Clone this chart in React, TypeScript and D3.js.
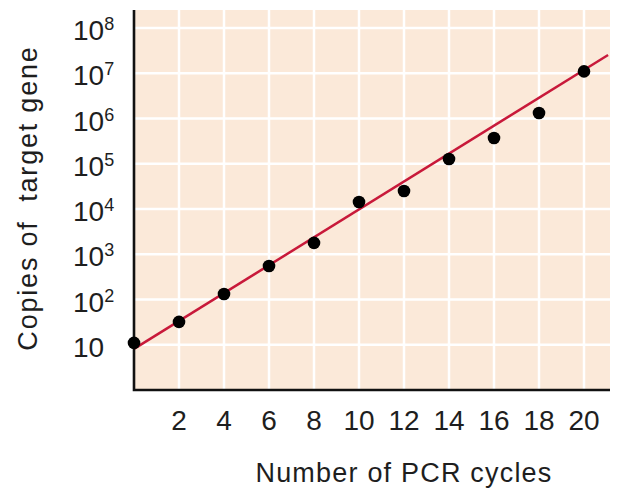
import React from "react";
import * as d3 from "d3";

// PCR amplification: copies of target gene vs. cycle number
const cycles = [0, 2, 4, 6, 8, 10, 12, 14, 16, 18, 20];
const copies = [11, 32, 132, 550, 1780, 14300, 25000, 127000, 370000, 1320000, 11000000];

// fitted line end points (cycle, copies)
const fitCycles = [0, 21.07];
const fitCopies = [8.1, 25300000];

const xTicks = [2, 4, 6, 8, 10, 12, 14, 16, 18, 20];
const yExponents = [1, 2, 3, 4, 5, 6, 7, 8];

const WIDTH = 620,
  HEIGHT = 491;
const left = 134,
  right = 610,
  top = 10,
  bottom = 390;

const FONT = "'Liberation Sans', Arial, Helvetica, sans-serif";
const bgColor = "#fbe9d9";
const lineColor = "#c8193a";
const textColor = "#1e1e1e";

export default function App() {
  const x = d3.scaleLinear().domain([0, 20]).range([left, 584]);
  const y = d3.scaleLog().domain([1, 1e8]).range([bottom, 28]);

  const line = d3
    .line<number>()
    .x((d, i) => x(fitCycles[i]))
    .y((d) => y(d));

  return (
    <svg
      width={WIDTH}
      height={HEIGHT}
      style={{ position: "absolute", left: 0, top: 0, background: "#fff" }}
      fontFamily={FONT}
    >
      {/* plot background */}
      <rect x={left} y={top} width={right - left} height={bottom - top} fill={bgColor} />

      {/* grid */}
      {xTicks.map((t) => (
        <line key={"gx" + t} x1={x(t)} x2={x(t)} y1={top} y2={bottom} stroke="#fff" strokeWidth={2.5} />
      ))}
      {yExponents.map((e) => (
        <line
          key={"gy" + e}
          x1={left}
          x2={right}
          y1={y(Math.pow(10, e))}
          y2={y(Math.pow(10, e))}
          stroke="#fff"
          strokeWidth={2.5}
        />
      ))}

      {/* fitted line */}
      <path d={line(fitCopies) || ""} fill="none" stroke={lineColor} strokeWidth={2.5} />

      {/* axes */}
      <path
        d={`M${left},${top} V${bottom} H${right}`}
        fill="none"
        stroke="#111"
        strokeWidth={2.6}
      />

      {/* data points */}
      {cycles.map((c, i) => (
        <circle key={"p" + c} cx={x(c)} cy={y(copies[i])} r={6.3} fill="#000" />
      ))}

      {/* x tick labels */}
      {xTicks.map((t) => (
        <text key={"tx" + t} x={x(t)} y={430} fontSize={28} textAnchor="middle" fill={textColor}>
          {t}
        </text>
      ))}

      {/* y tick labels */}
      {yExponents.map((e) => (
        <text key={"ty" + e} x={73} y={y(Math.pow(10, e)) + 12} fontSize={28} fill={textColor}>
          10
          {e > 1 ? (
            <tspan fontSize={18} dy={-10}>
              {e}
            </tspan>
          ) : null}
        </text>
      ))}

      {/* axis titles */}
      <text
        x={404}
        y={482}
        fontSize={27}
        textAnchor="middle"
        letterSpacing={1.2}
        fill={textColor}
      >
        Number of PCR cycles
      </text>
      <text
        transform={`translate(37,198) rotate(-90)`}
        fontSize={27}
        textAnchor="middle"
        letterSpacing={1.8}
        fill={textColor}
        style={{ whiteSpace: "pre" }}
      >
        {"Copies of  target gene"}
      </text>
    </svg>
  );
}
